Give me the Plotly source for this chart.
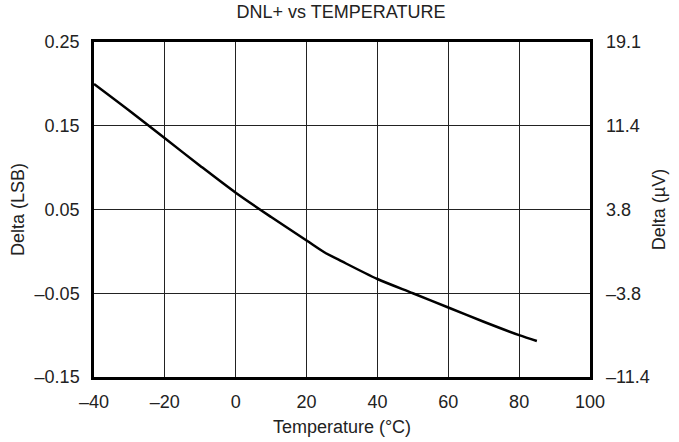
import plotly.graph_objects as go

temperature_c = [-40, -30, -20, -10, 0, 10, 20, 25, 30, 40, 50, 60, 70, 80, 85]
dnl_plus_lsb = [0.200, 0.168, 0.135, 0.102, 0.070, 0.041, 0.013, -0.001, -0.012,
                -0.033, -0.050, -0.067, -0.084, -0.100, -0.107]

x_ticks = [-40, -20, 0, 20, 40, 60, 80, 100]
x_ticktext = ["–40", "–20", "0", "20", "40", "60", "80", "100"]
y_ticks = [-0.15, -0.05, 0.05, 0.15, 0.25]
y_ticktext = ["–0.15", "–0.05", "0.05", "0.15", "0.25"]
y2_ticktext = ["–11.4", "–3.8", "3.8", "11.4", "19.1"]

FONT = "Liberation Sans, Arial, sans-serif"
TXT = "#222222"
FS = 18

fig = go.Figure()
fig.add_trace(go.Scatter(x=temperature_c, y=dnl_plus_lsb, mode="lines",
                         line=dict(color="black", width=2.5, shape="spline", smoothing=0.8),
                         showlegend=False, hoverinfo="skip"))
fig.add_trace(go.Scatter(x=temperature_c, y=dnl_plus_lsb, mode="lines", yaxis="y2",
                         line=dict(color="rgba(0,0,0,0)", width=0),
                         showlegend=False, hoverinfo="skip"))

fig.update_layout(
    width=679, height=442,
    margin=dict(l=94, r=89, t=42, b=65, autoexpand=False),
    paper_bgcolor="white", plot_bgcolor="white",
    font=dict(family=FONT, size=FS, color=TXT),
    title=dict(text="DNL+ vs TEMPERATURE", x=341/679, xanchor="center",
               y=1 - 12/442, yanchor="middle", font=dict(size=FS, color=TXT)),
    xaxis=dict(range=[-40, 100], tickvals=x_ticks, ticktext=x_ticktext, automargin=False,
               showgrid=True, gridcolor="#222222", gridwidth=1,
               showline=True, linecolor="black", linewidth=2.5, mirror=True,
               zeroline=False, ticks="", ticklabelstandoff=7,
               title=dict(text="Temperature (°C)", standoff=10, font=dict(size=FS, color=TXT))),
    yaxis=dict(range=[-0.15, 0.25], tickvals=y_ticks, ticktext=y_ticktext, automargin=False,
               showgrid=True, gridcolor="#222222", gridwidth=1,
               showline=True, linecolor="black", linewidth=2.5, mirror=True,
               zeroline=False, ticks="", ticklabelstandoff=8,
               title=dict(text="Delta (LSB)", standoff=6, font=dict(size=FS, color=TXT))),
    yaxis2=dict(range=[-0.15, 0.25], tickvals=y_ticks, ticktext=y2_ticktext, automargin=False,
                overlaying="y", side="right", showgrid=False, zeroline=False,
                showline=False, ticks="", ticklabelstandoff=15,
                title=dict(text="Delta (µV)", standoff=3, font=dict(size=FS, color=TXT))),
)

fig.write_html("out.html", config={"displayModeBar": False},
               post_script="document.body.style.margin='0';document.body.style.padding='0';")
